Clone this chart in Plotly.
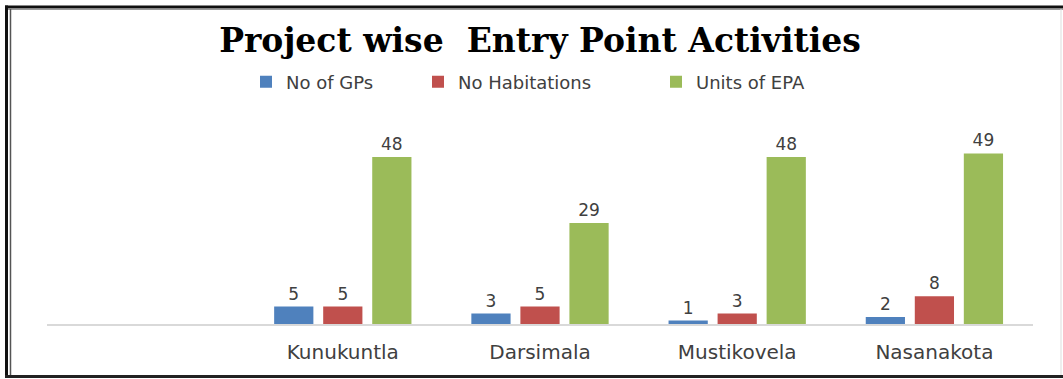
import plotly.graph_objects as go

categories = ["", "Kunukuntla", "Darsimala", "Mustikovela", "Nasanakota"]
no_of_gps = [None, 5, 3, 1, 2]
no_habitations = [None, 5, 5, 3, 8]
units_of_epa = [None, 48, 29, 48, 49]

series_names = ["No of GPs", "No Habitations", "Units of EPA"]
series_colors = ["#4F81BD", "#C0504D", "#9BBB59"]
legend_ids = ["legend", "legend2", "legend3"]
legend_symbol_px = [258, 430, 668]

W, H = 1063, 379
L, R, T, B = 47, 30, 110, 55
pw, ph = W - L - R, H - T - B

def px_x(p):
    return (p - L) / pw

def px_y(p):
    return (H - B - p) / ph

xs = list(range(len(categories)))
fig = go.Figure()
for name, vals, col, lg in zip(series_names, [no_of_gps, no_habitations, units_of_epa], series_colors, legend_ids):
    fig.add_trace(go.Bar(
        x=xs, y=vals, name=name, legend=lg,
        marker=dict(color=col, line=dict(width=0)),
        text=[("" if v is None else str(v)) for v in vals],
        textposition="outside", cliponaxis=False,
        textfont=dict(family="DejaVu Sans", size=17, color="#404040"),
    ))

shapes = [
    dict(type="line", xref="paper", yref="paper", x0=px_x(5), x1=px_x(1063), y0=px_y(7), y1=px_y(7),
         line=dict(color="#111111", width=3)),
    dict(type="line", xref="paper", yref="paper", x0=px_x(5), x1=px_x(1063), y0=px_y(9.5), y1=px_y(9.5),
         line=dict(color="#9a9a9a", width=1)),
    dict(type="line", xref="paper", yref="paper", x0=px_x(6.5), x1=px_x(6.5), y0=px_y(5.5), y1=px_y(378),
         line=dict(color="#111111", width=3)),
    dict(type="line", xref="paper", yref="paper", x0=px_x(10.5), x1=px_x(10.5), y0=px_y(9), y1=px_y(375),
         line=dict(color="#555555", width=1.5)),
    dict(type="line", xref="paper", yref="paper", x0=px_x(5), x1=px_x(1063), y0=px_y(376.5), y1=px_y(376.5),
         line=dict(color="#222222", width=3)),
    dict(type="line", xref="paper", yref="paper", x0=px_x(1061), x1=px_x(1061), y0=px_y(9), y1=px_y(375),
         line=dict(color="#dddddd", width=1)),
]

legend_style = dict(orientation="h", xanchor="left", yanchor="middle",
                    font=dict(family="DejaVu Sans", size=18, color="#404040"),
                    itemwidth=30, bgcolor="rgba(0,0,0,0)")
legend_layouts = {}
for lg, sx in zip(legend_ids, legend_symbol_px):
    legend_layouts[lg] = dict(legend_style, x=px_x(sx - 12), y=px_y(82))

fig.update_layout(
    width=W, height=H,
    margin=dict(l=L, r=R, t=T, b=B, autoexpand=False),
    paper_bgcolor="white", plot_bgcolor="white",
    barmode="group", bargap=0.254, bargroupgap=0.2,
    title=dict(text="<b>Project wise  Entry Point Activities</b>", x=px_x(540), xref="paper", xanchor="center",
               y=1 - 40 / H, yref="container", yanchor="middle",
               font=dict(family="DejaVu Serif", size=33, color="#000000")),
    xaxis=dict(tickvals=xs, ticktext=categories, range=[-0.5, len(categories) - 0.5],
               showline=True, linecolor="#d9d9d9", linewidth=2, showgrid=False, zeroline=False,
               ticks="", tickfont=dict(family="DejaVu Sans", size=20, color="#404040"), ticklabelstandoff=9),
    yaxis=dict(range=[0, ph / 3.48], visible=False, showgrid=False, zeroline=False),
    shapes=shapes,
    showlegend=True,
    **legend_layouts,
)

fig.write_html("out.html")
